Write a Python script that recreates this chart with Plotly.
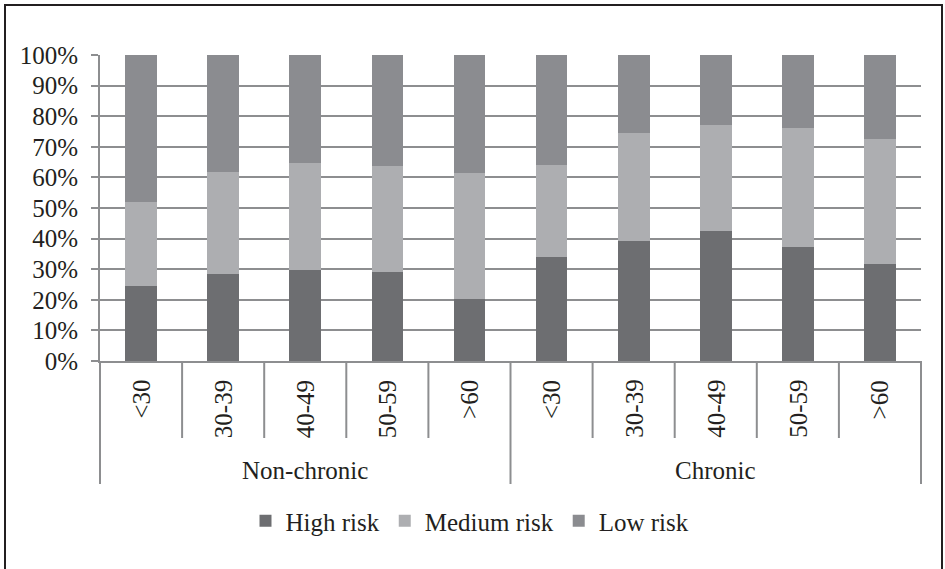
import plotly.graph_objects as go

# Age bands within each patient group
age_bands = ["<30", "30-39", "40-49", "50-59", ">60"]
groups = ["Non-chronic", "Chronic"]

# Share of each risk level (%) per group/age band, Non-chronic first then Chronic
high_risk = [24.4, 28.5, 29.6, 29.1, 20.1, 33.9, 39.1, 42.6, 37.3, 31.6]
medium_risk = [27.7, 33.2, 35.1, 34.6, 41.2, 30.1, 35.3, 34.6, 38.8, 40.8]
low_risk = [47.9, 38.3, 35.3, 36.3, 38.7, 36.0, 25.6, 22.8, 23.9, 27.6]

series_names = ["High risk", "Medium risk", "Low risk"]
series_values = [high_risk, medium_risk, low_risk]
series_colors = ["#6d6e71", "#adaeb1", "#8b8c90"]

tick_labels = age_bands * len(groups)
n_cat = len(tick_labels)
positions = list(range(n_cat))

FONT = "Liberation Serif"
TEXT = "#231f20"
GRID = "#8d8e90"
FS = 25

fig = go.Figure()
for name, vals, col in zip(series_names, series_values, series_colors):
    fig.add_trace(go.Bar(
        x=positions, y=vals, name=name,
        marker=dict(color=col, line=dict(width=0)),
    ))

W, H = 945, 569
L, R, T, B = 100, 24, 55, 208
plot_w = W - L - R
plot_h = H - T - B


def py(pix):
    """pixel row -> paper y"""
    return (H - B - pix) / plot_h


def px(pix):
    """pixel column -> paper x"""
    return (pix - L) / plot_w


shapes = []
# separators between age bands below the axis
for k in range(1, n_cat):
    if k % len(age_bands) == 0:
        continue
    shapes.append(dict(type="line", xref="paper", yref="paper",
                       x0=k / n_cat, x1=k / n_cat, y0=0, y1=py(438),
                       line=dict(color=GRID, width=2)))
# separators between the two groups
for k in range(0, n_cat + 1, len(age_bands)):
    shapes.append(dict(type="line", xref="paper", yref="paper",
                       x0=k / n_cat, x1=k / n_cat, y0=0, y1=py(484),
                       line=dict(color=GRID, width=2)))
# frame around the figure
shapes.append(dict(type="rect", xref="paper", yref="paper",
                   x0=px(5), x1=px(942), y0=py(620), y1=py(5),
                   line=dict(color=TEXT, width=2), fillcolor="rgba(0,0,0,0)"))

annotations = []
# rotated age-band labels, all starting just below the axis
for pos, lab in zip(positions, tick_labels):
    annotations.append(dict(
        text=lab, xref="x", yref="paper", x=pos, y=py(378),
        xanchor="center", yanchor="top", textangle=-90, showarrow=False,
        font=dict(family=FONT, size=FS, color=TEXT),
    ))
# group labels
for gi, g in enumerate(groups):
    annotations.append(dict(
        text=g, xref="paper", yref="paper",
        x=(gi + 0.5) / len(groups), y=py(470),
        xanchor="center", yanchor="middle", showarrow=False,
        font=dict(family=FONT, size=FS, color=TEXT),
    ))

fig.update_layout(
    width=W, height=H,
    margin=dict(l=L, r=R, t=T, b=B, pad=0),
    paper_bgcolor="white", plot_bgcolor="white",
    barmode="stack", bargap=0.614,
    font=dict(family=FONT, size=FS, color=TEXT),
    shapes=shapes, annotations=annotations,
    showlegend=True,
    legend=dict(orientation="h", x=px(470), xanchor="center",
                y=py(521), yanchor="middle", traceorder="normal",
                font=dict(family=FONT, size=FS, color=TEXT),
                itemwidth=30, bgcolor="rgba(0,0,0,0)"),
)

fig.update_xaxes(
    range=[-0.5, n_cat - 0.5],
    tickmode="array", tickvals=positions, showticklabels=False,
    ticks="", showgrid=False, zeroline=False,
    showline=True, linecolor=GRID, linewidth=2,
)
fig.update_yaxes(
    range=[0, 100], tickmode="linear", tick0=0, dtick=10,
    ticksuffix="%", ticks="outside", ticklen=7, tickcolor=GRID, tickwidth=2,
    showgrid=True, gridcolor=GRID, gridwidth=2, zeroline=False,
    showline=True, linecolor=GRID, linewidth=2,
    ticklabelstandoff=8,
    tickfont=dict(family=FONT, size=FS, color=TEXT),
)

fig.write_html("out.html")
